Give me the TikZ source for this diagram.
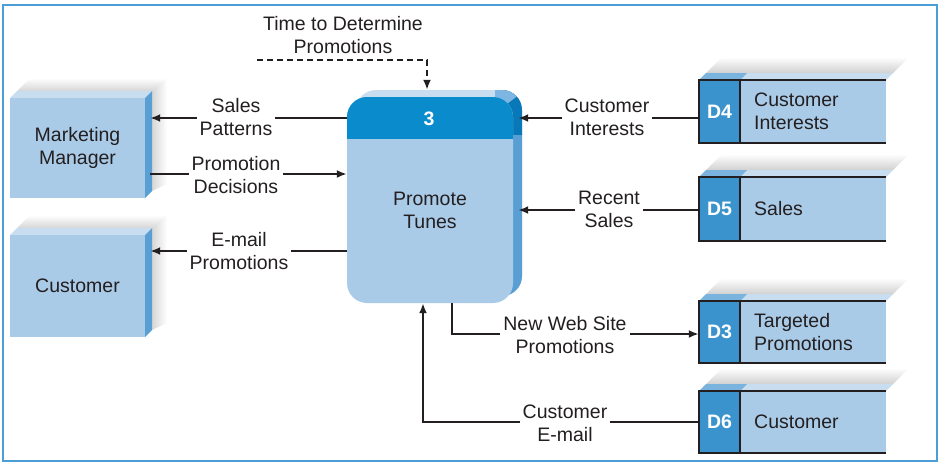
\documentclass[tikz,border=0pt]{standalone}
\usepackage{fontspec}
\setmainfont{Liberation Sans}
\usetikzlibrary{arrows.meta,calc}
\definecolor{frontc}{HTML}{AACBE8}
\definecolor{sidec}{HTML}{5A9FD3}
\definecolor{topc}{HTML}{C8DDF0}
\definecolor{headc}{HTML}{0A8BCB}
\definecolor{headside}{HTML}{0878B8}
\definecolor{headtop}{HTML}{7DB6E2}
\definecolor{dcellc}{HTML}{3A93CC}
\definecolor{dtopc}{HTML}{7AB3DE}
\definecolor{framec}{HTML}{4C9FD6}
\definecolor{ink}{HTML}{231F20}
\begin{document}
\begin{tikzpicture}[x=1pt,y=-1pt,
  font=\fontsize{19.5}{23}\selectfont,
  lbl/.style={fill=white, inner sep=3pt, align=center, text=ink},
  flow/.style={draw=ink, line width=2pt, -{Latex[length=10pt,width=8pt]}},
  entity/.style={fill=frontc, inner sep=0pt, align=center, text=ink, minimum width=135pt},
  storebox/.style={fill=frontc, inner sep=0pt, minimum width=187pt, minimum height=63pt},
  storeid/.style={text=white, font=\fontsize{19.5}{23}\selectfont\bfseries},
  storetxt/.style={anchor=west, align=left, text=ink, inner sep=0pt},
  storeline/.style={draw=ink, line width=2.5pt}]
\useasboundingbox (0,0) rectangle (942,467);
\draw[framec, line width=2pt] (3,5) rectangle (937,461);

% ---------- external entities ----------
\foreach \nm/\yt/\yb/\txt in {mm/98/198/{Marketing\\Manager}, cu/235/337/{Customer}}{
  \shade[top color=white, bottom color=black!16] (17,\yt-7) -- (30,\yt-20) -- (167,\yt-20) -- (152,\yt-7) -- cycle;
  \shade[left color=black!16, right color=white] (152,\yt-7) -- (167,\yt-20) -- (167,\yb-14) -- (152,\yb-7) -- cycle;
  \fill[topc] (10,\yt) -- (17,\yt-7) -- (152,\yt-7) -- (145,\yt) -- cycle;
  \fill[sidec] (145,\yt) -- (152,\yt-7) -- (152,\yb-7) -- (145,\yb) -- cycle;
  \node[entity, minimum height=\yb-\yt] (\nm) at (77.5,{(\yt+\yb)/2}) {\txt};
}

% ---------- process ----------
\fill[topc, rounded corners=20pt] (356,90) rectangle (522,296);
\begin{scope}
  \clip (500,134) rectangle (530,310);
  \fill[sidec, rounded corners=20pt] (356,90) rectangle (522,296);
\end{scope}
\begin{scope}
  \clip (495,85) rectangle (530,134);
  \fill[headside, rounded corners=20pt] (356,90) rectangle (522,296);
  \clip (495,85) -- (532,85) -- (495,113) -- cycle;
  \fill[headtop, rounded corners=20pt] (356,90) rectangle (522,296);
\end{scope}
\node[fill=frontc, rounded corners=20pt, minimum width=166pt, minimum height=206pt, inner sep=0pt] (p) at (430,200) {};
\begin{scope}
  \clip (340,90) rectangle (520,138);
  \fill[headc, rounded corners=20pt] (347,97) rectangle (513,303);
\end{scope}
\node[text=white, font=\fontsize{19.5}{23}\selectfont\bfseries] (pnum) at (429,119) {3};
\node[align=center, text=ink] (pname) at (430,210) {Promote\\Tunes};

% ---------- data stores ----------
\foreach \nm/\id/\yt/\yb/\txt in {d4/D4/80/143/{Customer\\Interests}, d5/D5/177/241/{Sales}, d3/D3/301/363/{Targeted\\Promotions}, d6/D6/391/453/{Customer}}{
  \shade[top color=white, bottom color=black!18] (706,\yt-7) -- (722,\yt-23) -- (909,\yt-23) -- (893,\yt-7) -- cycle;
  \fill[topc] (699,\yt) -- (706,\yt-7) -- (893,\yt-7) -- (886,\yt) -- cycle;
  \fill[dtopc] (699,\yt) -- (706,\yt-7) -- (747,\yt-7) -- (740,\yt) -- cycle;
  \node[storebox, minimum height=\yb-\yt] (\nm) at (792.5,{(\yt+\yb)/2}) {};
  \fill[dcellc] (699,\yt) rectangle (740,\yb);
  \draw[storeline] (886,\yt) -- (699,\yt) -- (699,\yb) -- (886,\yb);
  \draw[storeline] (740,\yt) -- (740,\yb);
  \node[storeid] (\nm-id) at (719.5,{(\yt+\yb)/2}) {\id};
  \node[storetxt] (\nm-txt) at (754,{(\yt+\yb)/2}) {\txt};
}

% ---------- flows ----------
\coordinate (tdstart) at (257,60);
\draw[flow, dash pattern=on 6pt off 4pt] (tdstart) -| ($(p.north)+(-3,-7)$);
\node[lbl, fill=none] (l-td) at (343,35.5) {Time to Determine\\Promotions};

\draw[flow] (p.west |- 0,118) -- ($(mm.east |- 0,118)+(5,0)$);
\node[lbl] (l-sp) at (236,117.5) {Sales\\Patterns};

\draw[flow] ($(mm.east |- 0,174)+(5,0)$) -- (p.west |- 0,174);
\node[lbl] (l-pd) at (236,175.5) {Promotion\\Decisions};

\draw[flow] (p.west |- 0,251) -- ($(cu.east |- 0,251)+(5,0)$);
\node[lbl] (l-ep) at (239,251) {E-mail\\Promotions};

\draw[flow] (d4.west |- 0,118) -- ($(p.east |- 0,118)+(5,0)$);
\node[lbl] (l-ci) at (607,117.5) {Customer\\Interests};

\draw[flow] (d5.west |- 0,210) -- ($(p.east |- 0,210)+(5,0)$);
\node[lbl] (l-rs) at (609,209) {Recent\\Sales};

\draw[flow] (p.south -| 452,0) |- (d3.west |- 0,334);
\node[lbl] (l-nw) at (565,335) {New Web Site\\Promotions};

\draw[flow] (d6.west) -| (p.south -| 423,0);
\node[lbl] (l-ce) at (565,423) {Customer\\E-mail};
\end{tikzpicture}
\end{document}
